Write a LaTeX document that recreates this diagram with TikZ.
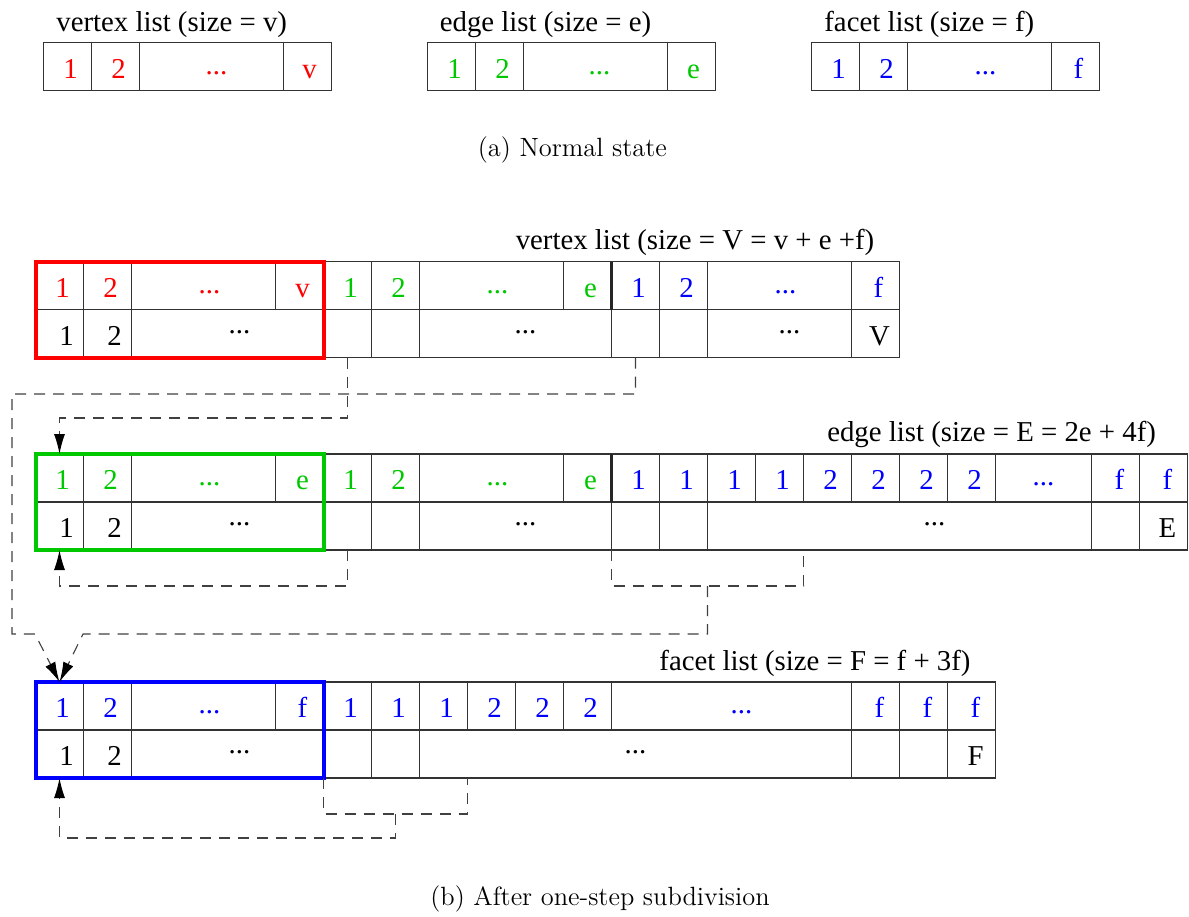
\documentclass[tikz,border=0pt]{standalone}
\usepackage{fontspec}
\newfontfamily\tms{Liberation Serif}
\usetikzlibrary{arrows.meta,calc}
\definecolor{cR}{RGB}{255,0,0}
\definecolor{cG}{RGB}{0,200,0}
\definecolor{cB}{RGB}{0,0,255}
\newcommand\topdots{\raisebox{2pt}{...}}
\newcommand\lowdots{\raisebox{6pt}{...}}
% name, x, y, width(px), text colour, shift(px), text
\newcommand\cel[7]{\node[cell,minimum width=#4*0.5pt,text=#5] (#1) at (#2,#3) {\hspace*{#6pt}#7};}
\tikzset{
  cell/.style={draw=black!80, line width=0.6pt, inner sep=0pt, outer sep=0pt,
    minimum height=24pt, anchor=north west, font=\tms\fontsize{14.4}{17}\selectfont,
    text height=11.5pt, text depth=0pt},
  lbl/.style={inner sep=0pt, font=\tms\fontsize{14.4}{17}\selectfont},
  captxt/.style={inner sep=0pt, font=\fontsize{13.2}{16}\selectfont, anchor=base},
  dsh/.style={draw=black!75, line width=0.55pt, dash pattern=on 5.5pt off 4pt},
  arr/.style={-{Latex[length=10pt,width=5.5pt,color=black]}},
  hibox/.style={line width=2pt}
}
\begin{document}
\begin{tikzpicture}[x=0.5pt,y=-0.5pt]
\useasboundingbox (0,0) rectangle (1189,916);

% ---------------- (a) normal state ----------------
\node[lbl,anchor=base west] (la1) at (56,31) {vertex list (size = v)};
\node[lbl,anchor=base west] (la2) at (439.5,31) {edge list (size = e)};
\node[lbl,anchor=base west] (la3) at (824,31) {facet list (size = f)};

\cel{av1}{43.5}{42.5}{48}{cR}{3}{1}
\cel{av2}{91.5}{42.5}{48}{cR}{3}{2}
\cel{av3}{139.5}{42.5}{144}{cR}{5}{\topdots}
\cel{av4}{283.5}{42.5}{48}{cR}{2}{v}

\cel{ae1}{427.5}{42.5}{48}{cG}{3}{1}
\cel{ae2}{475.5}{42.5}{48}{cG}{3}{2}
\cel{ae3}{523.5}{42.5}{144}{cG}{4}{\topdots}
\cel{ae4}{667.5}{42.5}{48}{cG}{2}{e}

\cel{af1}{811.5}{42.5}{48}{cB}{3}{1}
\cel{af2}{859.5}{42.5}{48}{cB}{3}{2}
\cel{af3}{907.5}{42.5}{144}{cB}{6}{\topdots}
\cel{af4}{1051.5}{42.5}{48}{cB}{3}{f}

\node[captxt] (capa) at (572.4,156.7) {(a) Normal state};

% ---------------- (b) vertex list ----------------
\node[lbl,anchor=base] (lv) at (695,249) {vertex list (size = V = v + e +f)};
\cel{vt1}{35.5}{261.5}{48}{cR}{3}{1}
\cel{vt2}{83.5}{261.5}{48}{cR}{3}{2}
\cel{vt3}{131.5}{261.5}{144}{cR}{6}{\topdots}
\cel{vt4}{275.5}{261.5}{48}{cR}{3}{v}
\cel{vt5}{323.5}{261.5}{48}{cG}{3}{1}
\cel{vt6}{371.5}{261.5}{48}{cG}{3}{2}
\cel{vt7}{419.5}{261.5}{144}{cG}{6}{\topdots}
\cel{vt8}{563.5}{261.5}{48}{cG}{3}{e}
\cel{vt9}{611.5}{261.5}{48}{cB}{3}{1}
\cel{vt10}{659.5}{261.5}{48}{cB}{3}{2}
\cel{vt11}{707.5}{261.5}{144}{cB}{6}{\topdots}
\cel{vt12}{851.5}{261.5}{48}{cB}{3}{f}

\cel{vb1}{35.5}{309.5}{48}{black}{7}{1}
\cel{vb2}{83.5}{309.5}{48}{black}{7}{2}
\cel{vb3}{131.5}{309.5}{192}{black}{12}{\lowdots}
\cel{vb4}{323.5}{309.5}{48}{black}{0}{}
\cel{vb5}{371.5}{309.5}{48}{black}{0}{}
\cel{vb6}{419.5}{309.5}{192}{black}{10}{\lowdots}
\cel{vb7}{611.5}{309.5}{48}{black}{0}{}
\cel{vb8}{659.5}{309.5}{48}{black}{0}{}
\cel{vb9}{707.5}{309.5}{144}{black}{10}{\lowdots}
\cel{vb10}{851.5}{309.5}{48}{black}{4}{V}
\draw[line width=1.1pt,black!85] (vt9.north west) -- (vt9.south west);

% ---------------- (b) edge list ----------------
\node[lbl,anchor=base] (le) at (991.6,441.7) {edge list (size = E = 2e + 4f)};
\cel{et1}{35.5}{454}{48}{cG}{3}{1}
\cel{et2}{83.5}{454}{48}{cG}{3}{2}
\cel{et3}{131.5}{454}{144}{cG}{6}{\topdots}
\cel{et4}{275.5}{454}{48}{cG}{3}{e}
\cel{et5}{323.5}{454}{48}{cG}{3}{1}
\cel{et6}{371.5}{454}{48}{cG}{3}{2}
\cel{et7}{419.5}{454}{144}{cG}{6}{\topdots}
\cel{et8}{563.5}{454}{48}{cG}{3}{e}
\cel{et9}{611.5}{454}{48}{cB}{3}{1}
\cel{et10}{659.5}{454}{48}{cB}{3}{1}
\cel{et11}{707.5}{454}{48}{cB}{3}{1}
\cel{et12}{755.5}{454}{48}{cB}{3}{1}
\cel{et13}{803.5}{454}{48}{cB}{3}{2}
\cel{et14}{851.5}{454}{48}{cB}{3}{2}
\cel{et15}{899.5}{454}{48}{cB}{3}{2}
\cel{et16}{947.5}{454}{48}{cB}{3}{2}
\cel{et17}{995.5}{454}{96}{cB}{0}{\topdots}
\cel{et18}{1091.5}{454}{48}{cB}{4}{f}
\cel{et19}{1139.5}{454}{48}{cB}{4}{f}

\cel{eb1}{35.5}{502}{48}{black}{7}{1}
\cel{eb2}{83.5}{502}{48}{black}{7}{2}
\cel{eb3}{131.5}{502}{192}{black}{12}{\lowdots}
\cel{eb4}{323.5}{502}{48}{black}{0}{}
\cel{eb5}{371.5}{502}{48}{black}{0}{}
\cel{eb6}{419.5}{502}{192}{black}{10}{\lowdots}
\cel{eb7}{611.5}{502}{48}{black}{0}{}
\cel{eb8}{659.5}{502}{48}{black}{0}{}
\cel{eb9}{707.5}{502}{384}{black}{35}{\lowdots}
\cel{eb10}{1091.5}{502}{48}{black}{0}{}
\cel{eb11}{1139.5}{502}{48}{black}{4}{E}
\draw[line width=1.1pt,black!85] (et9.north west) -- (et9.south west);

% ---------------- (b) facet list ----------------
\node[lbl,anchor=base] (lf) at (815,670) {facet list (size = F = f + 3f)};
\cel{ft1}{35.5}{682}{48}{cB}{3}{1}
\cel{ft2}{83.5}{682}{48}{cB}{3}{2}
\cel{ft3}{131.5}{682}{144}{cB}{6}{\topdots}
\cel{ft4}{275.5}{682}{48}{cB}{3}{f}
\cel{ft5}{323.5}{682}{48}{cB}{3}{1}
\cel{ft6}{371.5}{682}{48}{cB}{3}{1}
\cel{ft7}{419.5}{682}{48}{cB}{3}{1}
\cel{ft8}{467.5}{682}{48}{cB}{3}{2}
\cel{ft9}{515.5}{682}{48}{cB}{3}{2}
\cel{ft10}{563.5}{682}{48}{cB}{3}{2}
\cel{ft11}{611.5}{682}{240}{cB}{10}{\topdots}
\cel{ft12}{851.5}{682}{48}{cB}{4}{f}
\cel{ft13}{899.5}{682}{48}{cB}{4}{f}
\cel{ft14}{947.5}{682}{48}{cB}{4}{f}

\cel{fb1}{35.5}{730}{48}{black}{7}{1}
\cel{fb2}{83.5}{730}{48}{black}{7}{2}
\cel{fb3}{131.5}{730}{192}{black}{12}{\lowdots}
\cel{fb4}{323.5}{730}{48}{black}{0}{}
\cel{fb5}{371.5}{730}{48}{black}{0}{}
\cel{fb6}{419.5}{730}{432}{black}{0}{\lowdots}
\cel{fb7}{851.5}{730}{48}{black}{0}{}
\cel{fb8}{899.5}{730}{48}{black}{0}{}
\cel{fb9}{947.5}{730}{48}{black}{4}{F}

% ---------------- highlight boxes ----------------
\draw[hibox,cR] (vt1.north west) rectangle (vb3.south east);
\draw[hibox,cG] (et1.north west) rectangle (eb3.south east);
\draw[hibox,cB] (ft1.north west) rectangle (fb3.south east);

% ---------------- dashed connectors ----------------
\coordinate (o1) at (12,394);
\coordinate (o2) at (12,634);
\coordinate (o3) at (35,634);
\coordinate (o4) at (83,634);

\draw[dsh,arr] (vb4.south) -- ++(0,60.5) -| (et1.north);
\draw[dsh,arr] (vb7.south) |- (o1) -- (o2) -- (o3) -- (ft1.north);

\draw[dsh,arr] (eb4.south) -- ++(0,36) -| (eb1.south);
\draw[dsh] (eb7.south west) -- ++(0,36) coordinate (b1) -- (b1 -| et13.west) coordinate (b2) -- (b2 |- eb7.south);
\draw[dsh,arr] ($(b1)!0.5!(b2)$) |- (o4) -- (ft1.north);

\draw[dsh] (fb4.south west) -- ++(0,36) coordinate (b3) -- (b3 -| ft8.west) coordinate (b4) -- (b4 |- fb4.south);
\draw[dsh,arr] ($(b3)!0.5!(b4)$) -- ++(0,24) -| (fb1.south);

\node[captxt] (capb) at (600,905) {(b) After one-step subdivision};
\end{tikzpicture}
\end{document}
